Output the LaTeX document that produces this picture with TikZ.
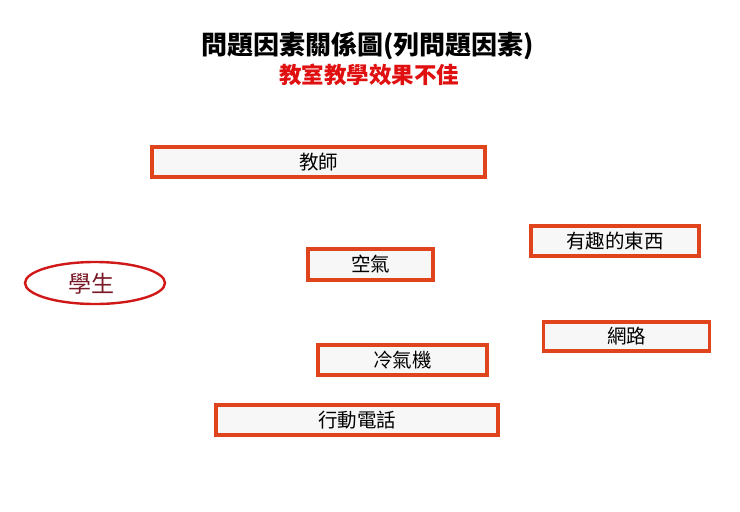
\documentclass[tikz,border=0pt]{standalone}
\usepackage{fontspec}
\setmainfont{Noto Sans CJK TC}
\usetikzlibrary{shapes.geometric,shadows}
\definecolor{boxred}{HTML}{E0441C}
\definecolor{ellred}{HTML}{D01818}
\definecolor{txtred}{HTML}{E01010}
\definecolor{ellt}{HTML}{7A1A28}
\tikzset{
  factor/.style={draw=boxred, line width=3.2pt, fill=gray!6, rectangle,
    drop shadow={shadow xshift=1.8pt, shadow yshift=-1.8pt, fill=gray!50, opacity=0.6},
    font=\fontsize{19.5}{22}\selectfont, text=black, inner sep=0pt},
}
\begin{document}
\begin{tikzpicture}[x=1pt,y=-1pt]
\useasboundingbox (0,0) rectangle (740,512);
\node (title) at (368,46) {\fontsize{26}{30}\selectfont\bfseries 問題因素關係圖(列問題因素)};
\node[text=txtred] (sub) at (369,75) {\fontsize{22.5}{26}\selectfont\bfseries 教室教學效果不佳};
\node[factor, minimum width=333pt, minimum height=30pt] (t) at (318.5,162) {教師};
\node[factor, minimum width=168pt, minimum height=30pt] (f) at (615,241) {有趣的東西};
\node[factor, minimum width=125pt, minimum height=31pt] (a) at (370.5,264.5) {空氣};
\node[factor, minimum width=166pt, minimum height=29pt] (n) at (626.5,336.5) {網路};
\node[factor, minimum width=169pt, minimum height=30pt] (c) at (402.5,360) {冷氣機};
\node[factor, minimum width=282pt, minimum height=30pt] (p) at (357,420) {行動電話};
\node[draw=ellred, line width=2.4pt, ellipse, minimum width=140pt, minimum height=42pt, inner sep=0pt] (s) at (95,283) {};
\node[text=ellt, font=\fontsize{23}{26}\selectfont] (st) at (91,284) {學生};
\end{tikzpicture}
\end{document}
